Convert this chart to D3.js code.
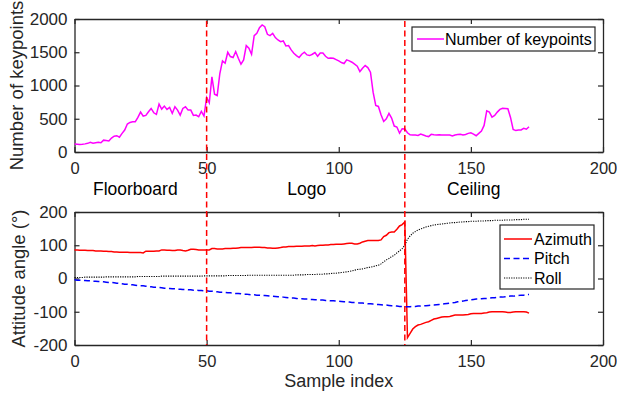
<!DOCTYPE html>
<html>
<head>
<meta charset="utf-8">
<script src="https://cdn.jsdelivr.net/npm/d3@7"></script>
<style>
  body { margin: 0; background: #fff; }
  text { font-family: "Liberation Sans", Arial, sans-serif; fill: #262626; }
</style>
</head>
<body>
<div id="chart"></div>
<script>
// figure size
const width = 617;
const height = 402;
const margin = {left: 74.5, right: 14};

// panel geometry (top: keypoints, bottom: attitude)
const top_panel = {y0: 19, y1: 152};
const bot_panel = {y0: 212, y1: 345};

// ---- data ----
const x_ticks = [0, 50, 100, 150, 200];
const kp_ticks = [0, 500, 1000, 1500, 2000];
const att_ticks = [-200, -100, 0, 100, 200];
const split_at = [50, 125];
const scenes = [{name: "Floorboard", x: 7}, {name: "Logo", x: 80.5}, {name: "Ceiling", x: 141}];

const keypoints = [
  120,118,112,115,122,130,145,132,140,145,
  140,178,172,165,210,238,245,222,280,330,
  420,445,455,455,520,600,540,550,605,655,
  590,565,720,645,690,640,670,580,680,630,
  555,655,680,630,630,550,555,530,610,540,
  820,740,1130,870,850,1180,1370,1335,1500,1435,
  1420,1510,1410,1320,1385,1600,1560,1470,1750,1785,
  1870,1910,1885,1770,1750,1785,1720,1685,1660,1670,
  1595,1600,1535,1485,1450,1420,1470,1500,1460,1450,
  1470,1495,1440,1490,1490,1440,1410,1415,1410,1390,
  1370,1345,1330,1385,1370,1350,1320,1290,1210,1260,
  1300,1270,1200,900,700,685,560,460,500,580,
  510,390,375,285,350,345,290,258,255,256,
  250,270,255,240,232,265,258,255,258,256,
  255,257,255,240,256,262,265,256,264,280,
  290,270,245,280,315,400,620,600,525,550,
  600,640,658,655,650,520,340,322,330,332,
  355,342,380
];

const azimuth = [
  86,86,85,85,85,84,84,84,83,83,
  83,82,82,81,81,80,80,79,79,79,
  79,78,78,78,78,78,77,82,82,82,
  82,83,83,86,86,85,85,84,84,86,
  86,84,83,85,88,88,87,86,86,86,
  86,86,90,90,89,89,89,90,90,90,
  91,91,92,93,93,93,93,93,94,94,
  94,93,93,92,92,91,91,92,93,95,
  95,96,96,96,97,97,97,98,98,98,
  99,98,99,100,100,101,101,102,102,103,
  103,103,104,105,106,106,104,104,106,110,
  112,114,114,114,114,114,116,126,130,138,
  140,140,148,158,162,170,-178,-165,-152,-145,
  -140,-138,-135,-132,-130,-126,-122,-120,-118,-116,
  -115,-115,-114,-112,-110,-110,-110,-110,-109,-108,
  -106,-105,-105,-105,-105,-104,-103,-101,-100,-100,
  -100,-100,-100,-101,-102,-102,-101,-100,-100,-100,
  -100,-101,-104
];

const pitch = [
  -4,-5,-5,-6,-6,-7,-7,-8,-8,-9,
  -9,-10,-11,-12,-12,-13,-14,-15,-16,-17,
  -17,-18,-19,-20,-21,-22,-22,-23,-24,-25,
  -26,-26,-27,-28,-29,-29,-30,-31,-31,-32,
  -32,-33,-33,-34,-34,-35,-35,-36,-36,-37,
  -37,-38,-38,-39,-40,-41,-41,-42,-43,-43,
  -44,-45,-45,-46,-47,-47,-48,-49,-49,-50,
  -50,-51,-51,-52,-53,-53,-54,-55,-55,-56,
  -57,-58,-59,-59,-60,-61,-61,-62,-62,-63,
  -63,-64,-64,-65,-65,-66,-66,-67,-67,-68,
  -68,-69,-70,-70,-71,-72,-72,-73,-74,-74,
  -75,-76,-76,-77,-78,-78,-79,-80,-80,-81,
  -82,-82,-83,-84,-84,-85,-85,-85,-84,-84,
  -83,-83,-82,-82,-81,-80,-80,-79,-78,-77,
  -76,-75,-74,-73,-72,-70,-69,-68,-66,-65,
  -64,-63,-62,-62,-61,-60,-60,-59,-58,-58,
  -57,-56,-56,-55,-54,-53,-53,-52,-51,-50,
  -50,-49,-48
];

const roll = [
  3,3,3,3,4,4,4,4,4,4,
  4,4,5,5,5,5,5,5,5,5,
  5,5,5,5,6,6,6,6,6,6,
  6,6,6,7,7,7,7,7,7,7,
  7,7,7,7,7,7,7,7,7,8,
  8,8,8,8,8,8,8,8,9,9,
  9,9,9,9,9,9,10,10,10,10,
  10,10,10,10,10,10,10,10,10,10,
  10,10,10,10,11,11,11,11,12,12,
  12,12,13,13,13,14,14,15,16,16,
  17,18,19,20,21,23,25,27,28,29,
  31,33,34,36,38,40,44,50,56,60,
  66,70,77,83,90,100,118,128,136,141,
  146,149,152,155,157,159,161,162,163,164,
  165,166,167,168,168,169,170,170,171,171,
  172,172,172,173,173,173,174,174,174,175,
  175,175,175,176,176,176,176,177,177,177,
  178,178,178
];

const att_series = [
  {name: "Azimuth", values: azimuth, color: "#ff0000", dash: null},
  {name: "Pitch", values: pitch, color: "#0000ff", dash: "6,3.5"},
  {name: "Roll", values: roll, color: "#000000", dash: "1.2,1.2"}
];

// ---- scales ----
const x = d3.scaleLinear().domain([0, 200]).range([margin.left, width - margin.right]);
const y_kp = d3.scaleLinear().domain([0, 2000]).range([top_panel.y1, top_panel.y0]);
const y_att = d3.scaleLinear().domain([-200, 200]).range([bot_panel.y1, bot_panel.y0]);

const svg = d3.select("#chart")
  .append("svg")
  .attr("width", width)
  .attr("height", height);

const axis_color = "#262626";
const plain = d => String(d);   // matlab style: no thousands separator, ascii minus

function drawAxes(yscale, yticks, panel) {
  const g = svg.append("g");
  // box with ticks pointing inwards on all four sides
  g.append("g")
    .attr("transform", `translate(0, ${panel.y1})`)
    .call(d3.axisBottom(x).tickValues(x_ticks).tickFormat(plain).tickSize(-5).tickPadding(10).tickSizeOuter(0))
    .call(a => a.selectAll("text").attr("font-size", 16.5).attr("dy", "0.71em"));
  g.append("g")
    .attr("transform", `translate(0, ${panel.y0})`)
    .call(d3.axisTop(x).tickValues(x_ticks).tickSize(-5).tickFormat("").tickSizeOuter(0));
  g.append("g")
    .attr("transform", `translate(${margin.left}, 0)`)
    .call(d3.axisLeft(yscale).tickValues(yticks).tickFormat(plain).tickSize(-5).tickPadding(7).tickSizeOuter(0))
    .call(a => a.selectAll("text").attr("font-size", 17));
  g.append("g")
    .attr("transform", `translate(${width - margin.right}, 0)`)
    .call(d3.axisRight(yscale).tickValues(yticks).tickSize(-5).tickFormat("").tickSizeOuter(0));
  g.selectAll(".domain").attr("stroke", axis_color).attr("stroke-width", 1.3);
  g.selectAll(".tick line").attr("stroke", axis_color).attr("stroke-width", 1.2);
  g.selectAll(".tick text").style("fill", axis_color).attr("font-family", "Liberation Sans, Arial, sans-serif");
  return g;
}

// ---- top panel: keypoints ----
drawAxes(y_kp, kp_ticks, top_panel);

svg.append("path")
  .datum(keypoints)
  .attr("fill", "none")
  .attr("stroke", "#ff00ff")
  .attr("stroke-width", 1.5)
  .attr("d", d3.line().x((d, i) => x(i)).y(d => y_kp(d)));

svg.append("text")
  .attr("transform", `translate(23, ${(top_panel.y0 + top_panel.y1) / 2}) rotate(-90)`)
  .attr("text-anchor", "middle")
  .attr("font-size", 18.5)
  .text("Number of keypoints");

// legend (top)
const leg1 = svg.append("g").attr("transform", "translate(412, 27)");
leg1.append("rect").attr("width", 183).attr("height", 24)
  .attr("fill", "#fff").attr("stroke", axis_color).attr("stroke-width", 1.2);
leg1.append("line").attr("x1", 5).attr("x2", 32).attr("y1", 12).attr("y2", 12)
  .attr("stroke", "#ff00ff").attr("stroke-width", 1.5);
leg1.append("text").attr("x", 33).attr("y", 12).attr("dy", "0.35em")
  .attr("font-size", 16).style("fill", "#000").text("Number of keypoints");

// scene names
svg.selectAll(".scene")
  .data(scenes)
  .enter()
  .append("text")
  .attr("class", "scene")
  .attr("x", d => x(d.x))
  .attr("y", 195)
  .attr("font-size", 17.5)
  .style("fill", "#000")
  .text(d => d.name);

// ---- bottom panel: attitude ----
drawAxes(y_att, att_ticks, bot_panel);

const att_line = d3.line().x((d, i) => x(i)).y(d => y_att(d));
svg.selectAll(".att")
  .data(att_series)
  .enter()
  .append("path")
  .attr("class", "att")
  .attr("fill", "none")
  .attr("stroke", d => d.color)
  .attr("stroke-width", d => d.name === "Roll" ? 1.1 : 1.5)
  .attr("stroke-dasharray", d => d.dash)
  .attr("d", d => att_line(d.values));

svg.append("text")
  .attr("transform", `translate(25, ${(bot_panel.y0 + bot_panel.y1) / 2}) rotate(-90)`)
  .attr("text-anchor", "middle")
  .attr("font-size", 18.5)
  .text("Attitude angle (°)");

svg.append("text")
  .attr("x", (x(0) + x(200)) / 2)
  .attr("y", 387)
  .attr("text-anchor", "middle")
  .attr("font-size", 18)
  .text("Sample index");

// legend (bottom)
const leg2 = svg.append("g").attr("transform", "translate(500, 225)");
leg2.append("rect").attr("width", 94).attr("height", 64)
  .attr("fill", "#fff").attr("stroke", axis_color).attr("stroke-width", 1.2);
const rows = leg2.selectAll(".row")
  .data(att_series)
  .enter()
  .append("g")
  .attr("transform", (d, i) => `translate(0, ${14 + i * 19.5})`);
rows.append("line").attr("x1", 4).attr("x2", 32)
  .attr("stroke", d => d.color)
  .attr("stroke-width", d => d.name === "Roll" ? 1.1 : 1.5)
  .attr("stroke-dasharray", d => d.dash);
rows.append("text").attr("x", 34).attr("dy", "0.35em")
  .attr("font-size", 16).style("fill", "#000").text(d => d.name);

// ---- scene boundaries (span both panels) ----
svg.selectAll(".split")
  .data(split_at)
  .enter()
  .append("line")
  .attr("class", "split")
  .attr("x1", d => x(d)).attr("x2", d => x(d))
  .attr("y1", top_panel.y0 + 2).attr("y2", bot_panel.y1)
  .attr("stroke", "#ff0000")
  .attr("stroke-width", 1.5)
  .attr("stroke-dasharray", "6,3.5");
</script>
</body>
</html>
